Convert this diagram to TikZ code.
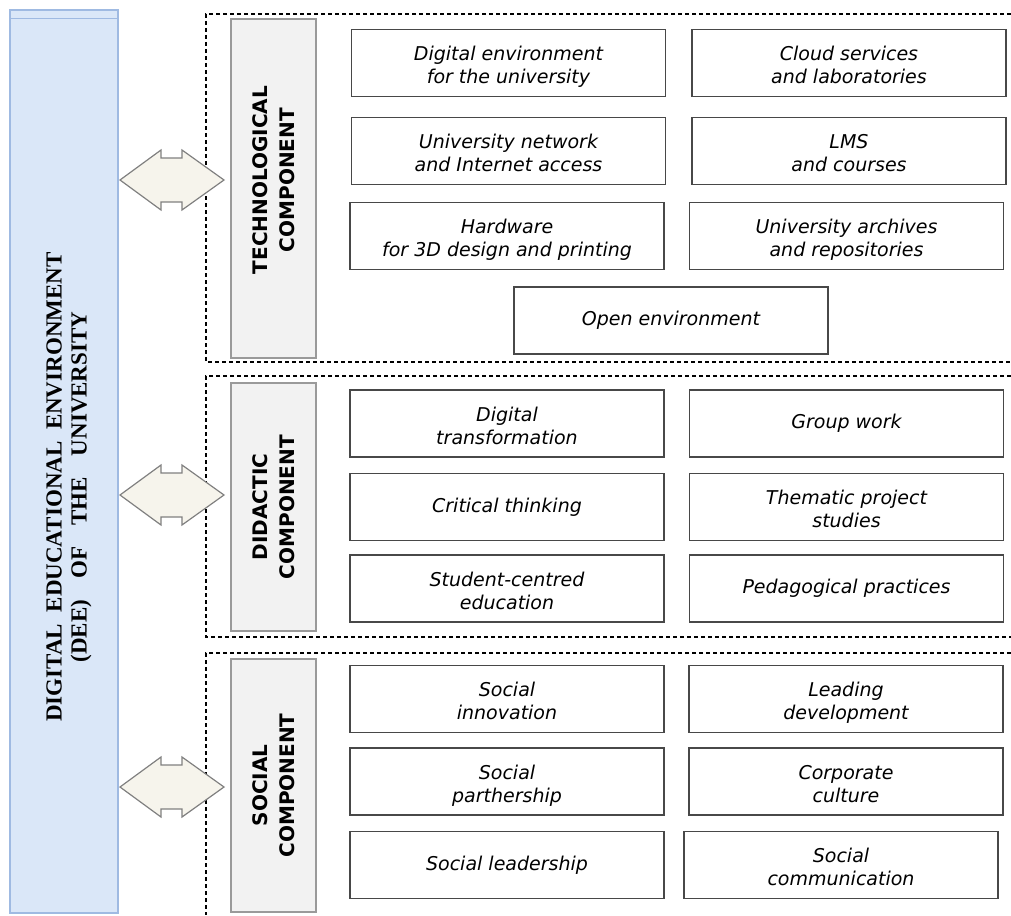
\documentclass[tikz,border=0pt]{standalone}
\usepackage{fontspec}
\setmainfont{Liberation Serif}
\newfontfamily\verd{DejaVu Sans}
\definecolor{barfill}{HTML}{DAE7F8}
\definecolor{barline}{HTML}{9FBAE2}
\definecolor{compfill}{HTML}{F2F2F2}
\definecolor{compline}{HTML}{9A9A9A}
\definecolor{itemline}{HTML}{484848}
\definecolor{twinfill}{HTML}{F6F4EC}
\definecolor{twinline}{HTML}{808080}
\begin{document}
\begin{tikzpicture}[x=1pt,y=-1pt,
    item/.style={draw=itemline,line width=1.6pt,fill=white,minimum width=314pt,minimum height=67pt,
      inner sep=2pt,align=center,font=\verd\itshape\fontsize{19}{23}\selectfont},
    pair/.style={item,text height=45pt,text depth=4pt},
    comp/.style={draw=compline,line width=1.4pt,fill=compfill,minimum width=85pt},
    comptext/.style={rotate=90,align=center,font=\verd\bfseries\fontsize{20}{27}\selectfont},
    zone/.style={dash pattern=on 4pt off 3pt,line width=1.3pt},
    twin/.style={draw=twinline,line width=1.2pt,fill=twinfill,line join=miter}]
  \useasboundingbox (0,0) rectangle (1011,915);
  % DEE bar
  \node[draw=barline,line width=1.2pt,fill=barfill,minimum width=108pt,minimum height=903pt] (dee) at (64,461.5) {};
  \draw[barline,line width=1.2pt] (dee.north west) ++(0,9) -- ++(108,0); % header strip
  \node[rotate=90,align=center,font=\bfseries\fontsize{23}{25}\selectfont] (deetext) at (69,487)
    {DIGITAL\ \ EDUCATIONAL\ \ ENVIRONMENT\\(DEE)\hspace{21pt}OF\hspace{21pt}THE\hspace{21pt}UNIVERSITY};
  % dashed zones
  \draw[zone] (1011,14) -- (206,14) -- (206,362) -- (1011,362); % technological
  \draw[zone] (1011,376) -- (206,376) -- (206,637) -- (1011,637); % didactic
  \draw[zone] (1011,653) -- (206,653) -- (206,915); % social
  % two-headed arrows
  \draw[twin] (120,180) -- ++(41,-30) -- ++(0,8) -- ++(21,0) -- ++(0,-8) -- ++(42,30)
    -- ++(-42,30) -- ++(0,-8) -- ++(-21,0) -- ++(0,8) -- cycle;
  \draw[twin] (120,495) -- ++(41,-30) -- ++(0,8) -- ++(21,0) -- ++(0,-8) -- ++(42,30)
    -- ++(-42,30) -- ++(0,-8) -- ++(-21,0) -- ++(0,8) -- cycle;
  \draw[twin] (120,787) -- ++(41,-30) -- ++(0,8) -- ++(21,0) -- ++(0,-8) -- ++(42,30)
    -- ++(-42,30) -- ++(0,-8) -- ++(-21,0) -- ++(0,8) -- cycle;
  % components
  \node[comp,minimum height=339pt] (tech) at (273.5,188.5) {};
  \node[comptext] (techtext) at (273.5,180) {TECHNOLOGICAL\\COMPONENT};
  \node[comp,minimum height=248pt] (did) at (273.5,507) {};
  \node[comptext] (didtext) at (tech.center |- did.center) {DIDACTIC\\COMPONENT};
  \node[comp,minimum height=253pt] (soc) at (273.5,785.5) {};
  \node[comptext] (soctext) at (soc.center) {SOCIAL\\COMPONENT};
  % technological items
  \node[pair] (tA) at (508.5,63) {Digital environment\\for the university};
  \node[pair] (tB) at (849,63) {Cloud services\\and laboratories};
  \node[pair] (tC) at (508.5,151) {University network\\and Internet access};
  \node[pair] (tD) at (849,151) {LMS\\and courses};
  \node[pair] (tE) at (507,236) {Hardware\\for 3D design and printing};
  \node[pair] (tF) at (846.5,236) {University archives\\and repositories};
  \node[item] (tG) at (671,320.5) {Open environment};
  % didactic items
  \node[pair] (dA) at (507,423.5) {Digital\\transformation};
  \node[item] (dB) at (846.5,423.5) {Group work};
  \node[item] (dC) at (507,507) {Critical thinking};
  \node[pair] (dD) at (846.5,507) {Thematic project\\studies};
  \node[pair] (dE) at (507,588.5) {Student-centred\\education};
  \node[item] (dF) at (846.5,588.5) {Pedagogical practices};
  % social items
  \node[pair] (sA) at (507,699) {Social\\innovation};
  \node[pair] (sB) at (846,699) {Leading\\development};
  \node[pair] (sC) at (507,781.5) {Social\\parthership};
  \node[pair] (sD) at (846,781.5) {Corporate\\culture};
  \node[item] (sE) at (507,865) {Social leadership};
  \node[pair] (sF) at (841,865) {Social\\communication};
\end{tikzpicture}
\end{document}
